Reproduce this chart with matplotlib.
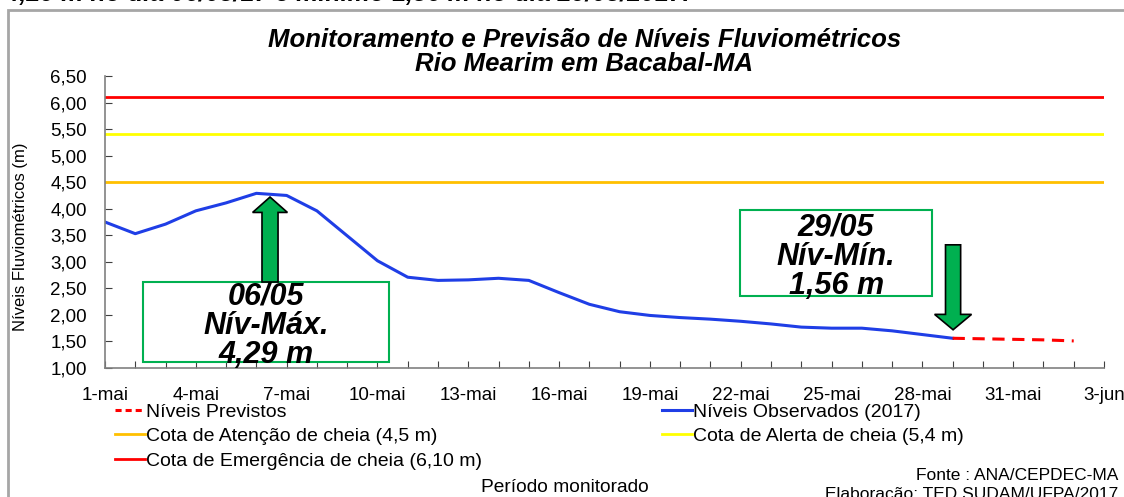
import numpy as np
import matplotlib
matplotlib.use('Agg')
import matplotlib.pyplot as plt
import matplotlib.dates as mdates
from matplotlib.patches import FancyArrow, Rectangle
from matplotlib.lines import Line2D
import datetime as dt

plt.rcParams['font.family'] = ['Liberation Sans', 'DejaVu Sans']

# observed levels, 1-mai .. 29-mai (m)
obs_days = np.arange(1, 30)
obs_vals = [3.75, 3.53, 3.71, 3.96, 4.11, 4.29, 4.25, 3.96, 3.49, 3.02,
            2.71, 2.65, 2.66, 2.69, 2.65, 2.42, 2.20, 2.06, 1.99, 1.95,
            1.92, 1.88, 1.83, 1.77, 1.75, 1.75, 1.70, 1.63, 1.56]
# forecast, 29-mai .. 2-jun
prev_dates = [dt.date(2017, 5, 29), dt.date(2017, 5, 30), dt.date(2017, 5, 31),
              dt.date(2017, 6, 1), dt.date(2017, 6, 2)]
prev_vals = [1.56, 1.55, 1.54, 1.53, 1.51]

cota_atencao = 4.5
cota_alerta = 5.4
cota_emergencia = 6.10

yticks = [1.0, 1.5, 2.0, 2.5, 3.0, 3.5, 4.0, 4.5, 5.0, 5.5, 6.0, 6.5]
ytick_labels = ['1,00', '1,50', '2,00', '2,50', '3,00', '3,50', '4,00',
                '4,50', '5,00', '5,50', '6,00', '6,50']

obs_dates = [dt.date(2017, 5, d) for d in obs_days]
x0 = dt.date(2017, 5, 1)
x1 = dt.date(2017, 6, 3)

W, H = 1124, 497
fig = plt.figure(figsize=(W / 100, H / 100), dpi=100)
ax = fig.add_axes([105 / W, 1 - 368 / H, (1104 - 105) / W, (368 - 76) / H])

# outer frame of the chart area
fig.patches.append(Rectangle((8 / W, -0.1), 1.2, 1 - 10 / H + 0.1,
                             transform=fig.transFigure, fill=False,
                             edgecolor='#a6a6a6', linewidth=2))

ax.axhline(cota_emergencia, color='#ff0000', lw=2)
ax.axhline(cota_alerta, color='#ffff00', lw=2)
ax.axhline(cota_atencao, color='#ffc000', lw=2)
ax.plot(obs_dates, obs_vals, color='#1f3ee6', lw=2.2)
ax.plot(prev_dates, prev_vals, color='#ff0000', lw=2.2, ls=(0, (4, 2.5)))

ax.set_xlim(mdates.date2num(x0), mdates.date2num(x1))
ax.set_ylim(1.0, 6.5)
ax.set_yticks(yticks)
ax.set_yticklabels(ytick_labels, fontsize=13.5)
ticks = [mdates.date2num(x0) + i for i in range(0, 34)]
ax.set_xticks(ticks)
lab = []
for i, t in enumerate(ticks):
    d = mdates.num2date(t)
    if i % 3 == 0:
        lab.append('%d-%s' % (d.day, 'mai' if d.month == 5 else 'jun'))
    else:
        lab.append('')
ax.set_xticklabels(lab, fontsize=13.5)
ax.tick_params(axis='x', direction='in', length=5, pad=14, color='#404040')
ax.tick_params(axis='y', direction='in', length=5, pad=13, color='#404040')
for s in ['top', 'right']:
    ax.spines[s].set_visible(False)
for s in ['left', 'bottom']:
    ax.spines[s].set_color('#808080')
    ax.spines[s].set_linewidth(1.2)
ax.set_ylabel('Níveis Fluviométricos (m)', fontsize=12)
ax.yaxis.set_label_coords(-(105 - 28) / 999, 0.45)

# annotation boxes and arrows
bx = mdates.date2num(x0)
ax.add_patch(Rectangle((bx + (143 - 105) / 30.27, 1.11), (389 - 143) / 30.27, 1.51,
                       fill=False, edgecolor='#00b050', lw=1.5, zorder=4))
ax.text(bx + (266 - 105) / 30.27, 1.79, '06/05\nNív-Máx.\n4,29 m', ha='center', va='center',
        fontsize=22, fontweight='bold', fontstyle='italic', linespacing=0.96, zorder=5)
ax.add_patch(Rectangle((bx + (740 - 105) / 30.27, 2.35), (932 - 740) / 30.27, 1.62,
                       fill=False, edgecolor='#00b050', lw=1.5, zorder=4))
ax.text(bx + (836 - 105) / 30.27, 3.10, '29/05\nNív-Mín.\n1,56 m', ha='center', va='center',
        fontsize=22, fontweight='bold', fontstyle='italic', linespacing=0.96, zorder=5)

ax.add_patch(FancyArrow(bx + (270 - 105) / 30.27, 2.62, 0, 4.22 - 2.62,
                        width=0.53, head_width=1.15, head_length=0.29,
                        length_includes_head=True, facecolor='#00b050',
                        edgecolor='black', lw=1.2, zorder=5))
ax.add_patch(FancyArrow(bx + (953 - 105) / 30.27, 3.32, 0, 1.72 - 3.32,
                        width=0.5, head_width=1.22, head_length=0.29,
                        length_includes_head=True, facecolor='#00b050',
                        edgecolor='black', lw=1.2, zorder=5))

ax.text(0.48, 1.0 + 24 / 292, 'Monitoramento e Previsão de Níveis Fluviométricos\nRio Mearim em Bacabal-MA',
        transform=ax.transAxes, ha='center', va='center', fontsize=18.5,
        fontweight='bold', fontstyle='italic', linespacing=0.98)

# legend (row-major order as in the original)
handles = [Line2D([], [], color='#ff0000', lw=2.2, ls=(0, (2, 1.3))),
           Line2D([], [], color='#ffc000', lw=2),
           Line2D([], [], color='#ff0000', lw=2),
           Line2D([], [], color='#1f3ee6', lw=2.2),
           Line2D([], [], color='#ffff00', lw=2)]
labels = ['Níveis Previstos', 'Cota de Atenção de cheia (4,5 m)',
          'Cota de Emergência de cheia (6,10 m)', 'Níveis Observados (2017)',
          'Cota de Alerta de cheia (5,4 m)']
fig.legend(handles, labels, loc='upper left', bbox_to_anchor=(115 / W, 1 - 403 / H),
           ncol=2, frameon=False, fontsize=14, handlelength=1.55, handletextpad=0.05,
           columnspacing=9.25, labelspacing=0.36, borderaxespad=0, borderpad=0)

fig.text(565 / W, 1 - 488 / H, 'Período monitorado', ha='center', va='center', fontsize=13.8)
fig.text(1118 / W, 1 - 476 / H, 'Fonte : ANA/CEPDEC-MA', ha='right', va='center', fontsize=12.5)
fig.text(1118 / W, 1 - 495 / H, 'Elaboração: TED SUDAM/UFPA/2017', ha='right', va='center', fontsize=12.5)

# caption line cut by the top of the screenshot
fig.text(690 / W, 1 - 1 / H, 'cota máxima de 4,29 m no dia 06/05/17 e mínimo 1,56 m no dia 29/05/2017.',
         ha='right', va='baseline', fontsize=18, fontweight='bold', fontstyle='italic')

fig.savefig('out.png', dpi=100)
